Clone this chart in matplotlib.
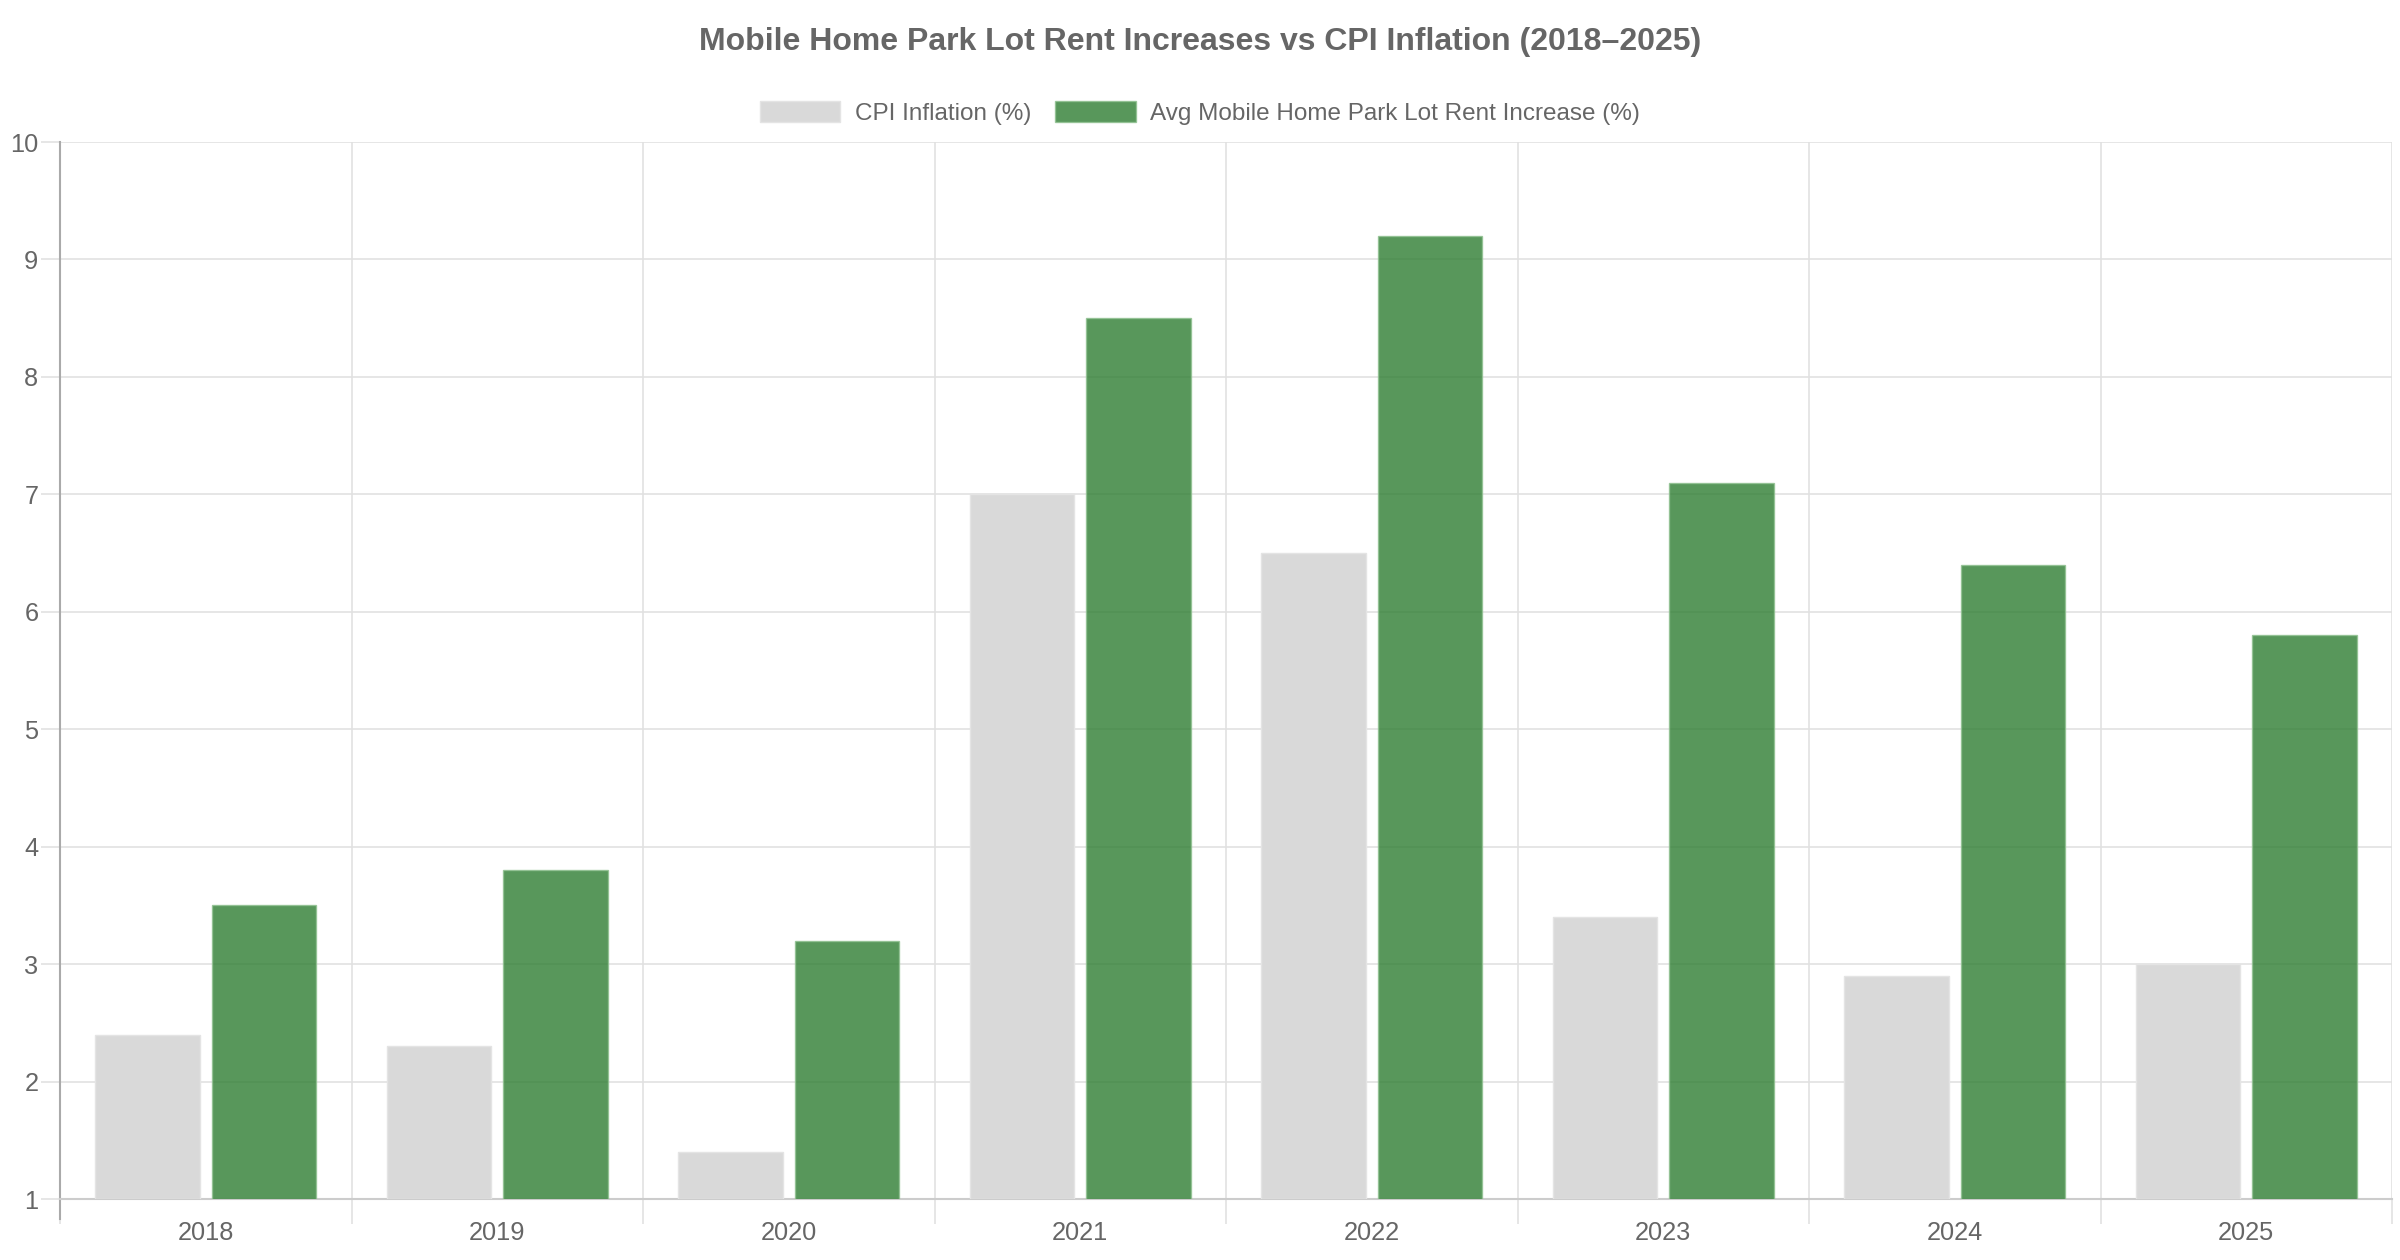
import numpy as np
import matplotlib.pyplot as plt

plt.rcParams['font.family'] = ['Liberation Sans', 'DejaVu Sans']

years = ['2018', '2019', '2020', '2021', '2022', '2023', '2024', '2025']
cpi = [2.4, 2.3, 1.4, 7.0, 6.5, 3.4, 2.9, 3.0]
lot_rent = [3.5, 3.8, 3.2, 8.5, 9.2, 7.1, 6.4, 5.8]

text_col = '#666666'
grid_col = '#e1e1e1'

fig = plt.figure(figsize=(24, 12.6), dpi=100)
ax = fig.add_axes([0.025, 0.0484, 0.9717, 0.8389])

x = np.arange(len(years))
w = 0.358
base = 1
ax.bar(x - 0.2, np.array(cpi) - base, w, bottom=base, color='#d9d9d9',
       edgecolor='#e4e4e4', linewidth=1, label='CPI Inflation (%)', zorder=3)
ax.bar(x + 0.2, np.array(lot_rent) - base, w, bottom=base, color='#2e7d32',
       alpha=0.8, edgecolor='#8fc08f', linewidth=1,
       label='Avg Mobile Home Park Lot Rent Increase (%)', zorder=3)

ax.set_xlim(-0.5, len(years) - 0.5)
ax.set_ylim(1, 10)
ax.set_yticks(range(1, 11))

# category boundaries as minor ticks with grid, labels at centres
ax.set_xticks(x)
ax.set_xticklabels(years)
ax.set_xticks(np.arange(-0.5, len(years)), minor=True)
ax.tick_params(axis='x', which='major', length=0, pad=16, labelsize=18.3, labelcolor=text_col)
ax.tick_params(axis='x', which='minor', length=18, width=1.2, color=grid_col)
ax.tick_params(axis='y', length=14, width=1.2, color=grid_col, pad=1.5, labelsize=18.3, labelcolor=text_col)
ax.grid(axis='x', which='minor', color=grid_col, linewidth=1.2, zorder=0)
ax.grid(axis='y', which='major', color=grid_col, linewidth=1.2, zorder=0)
ax.grid(axis='x', which='major', visible=False)

for s in ['top', 'right']:
    ax.spines[s].set_visible(False)
ax.spines['bottom'].set_color('#cccccc')
ax.spines['bottom'].set_linewidth(1.5)
ax.spines['left'].set_color('#aaaaaa')
ax.spines['left'].set_linewidth(1.5)
ax.spines['left'].set_bounds(0.83, 10)
ax.spines['left'].set_clip_on(False)

fig.text(0.5, 0.9665, 'Mobile Home Park Lot Rent Increases vs CPI Inflation (2018\u20132025)',
         ha='center', va='center', fontsize=23, fontweight='bold', color=text_col)

fig.legend(loc='center', bbox_to_anchor=(0.5, 0.9105), ncol=2, frameon=False,
           fontsize=17.5, labelcolor=text_col, handlelength=3.3, handleheight=1.0,
           columnspacing=1.0, handletextpad=0.6)

fig.savefig('out.png', dpi=100)
